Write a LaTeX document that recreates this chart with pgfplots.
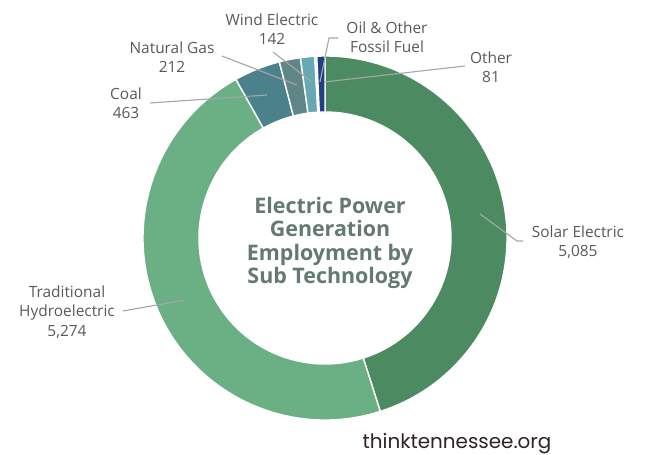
\documentclass[border=0pt]{standalone}
\usepackage{pgfplots}
\pgfplotsset{compat=1.18}
\usepackage{pgfplotstable}
\usetikzlibrary{calc}
\usepackage{fontspec}
\setmainfont{Open Sans}
\newfontfamily\sitefont{Poppins}

% slice colours, clockwise from the top
\definecolor{col0}{HTML}{4C8B61}
\definecolor{col1}{HTML}{6BAF84}
\definecolor{col2}{HTML}{4B818B}
\definecolor{col3}{HTML}{5F8587}
\definecolor{col4}{HTML}{66A9B4}
\definecolor{col5}{HTML}{A6D59E}
\definecolor{col6}{HTML}{1F4184}
\definecolor{labelgray}{HTML}{595959}
\definecolor{leadgray}{HTML}{A6A6A6}
\definecolor{titlecol}{HTML}{647A70}
\definecolor{sitecol}{HTML}{2E2222}

\pgfplotstableread{
name value
Solar 5085
Hydro 5274
Coal 463
Gas 212
Wind 142
Oil 20
Other 81
}\datatable

% total and slice angles (start at 12 o'clock, clockwise)
\def\total{0}
\pgfplotsforeachungrouped \i in {0,...,6}{%
  \pgfplotstablegetelem{\i}{value}\of\datatable
  \pgfmathsetmacro\total{\total+\pgfplotsretval}%
}
\def\startang{90}
\pgfplotsforeachungrouped \i in {0,...,6}{%
  \pgfplotstablegetelem{\i}{value}\of\datatable
  \pgfmathsetmacro\endang{\startang-\pgfplotsretval/\total*360}%
  \expandafter\xdef\csname sa\i\endcsname{\startang}%
  \expandafter\xdef\csname ea\i\endcsname{\endang}%
  \global\let\startang\endang
}

\def\R{182bp}
\def\r{126bp}

\begin{document}
\begin{tikzpicture}
\begin{axis}[
    scale only axis,
    width=645bp, height=455bp,
    xmin=0, xmax=645, ymin=0, ymax=455,
    hide axis, clip=false,
    anchor=south west, at={(0,0)},
]
\pgfplotsinvokeforeach{0,...,6}{
  \fill[fill=col#1, draw=white, line width=1.4bp]
    ($(axis cs:325,217)+({\csname sa#1\endcsname}:\R)$)
      arc[start angle=\csname sa#1\endcsname, end angle=\csname ea#1\endcsname, radius=\R]
    -- ($(axis cs:325,217)+({\csname ea#1\endcsname}:\r)$)
      arc[start angle=\csname ea#1\endcsname, end angle=\csname sa#1\endcsname, radius=\r]
    -- cycle;
}

% leader lines
\begin{scope}[leadgray, line width=1.1bp]
\draw (axis cs:273,403) -- (axis cs:312,373);
\draw (axis cs:222,399) -- (axis cs:297,370);
\draw (axis cs:150,352) -- (axis cs:267,360);
\draw (axis cs:338,417) -- (axis cs:329,417) -- (axis cs:320,373);
\draw (axis cs:465,389) -- (axis cs:324,373);
\draw (axis cs:480,241) -- (axis cs:517,214) -- (axis cs:523,214);
\draw (axis cs:123,144) -- (axis cs:185,155);
\end{scope}

% labels
\begin{scope}[every node/.style={align=center, text=labelgray, font=\fontsize{15.5}{19.5}\selectfont, inner sep=0pt}]
\node at (axis cs:272,426) {Wind Electric\\142};
\node at (axis cs:387,418) {Oil \& Other\\Fossil Fuel};
\node at (axis cs:491,388) {Other\\81};
\node at (axis cs:172,398) {Natural Gas\\212};
\node at (axis cs:126,352) {Coal\\463};
\node at (axis cs:578,213) {Solar Electric\\5,085};
\node at (axis cs:67,143) {Traditional\\Hydroelectric\\5,274};
\end{scope}

\node[align=center, text=titlecol, inner sep=0pt,
      font=\fontsize{21.5}{23.5}\selectfont\bfseries]
  at (axis cs:330,212) {Electric Power\\Generation\\Employment by\\Sub Technology};

\node[text=sitecol, inner sep=0pt, font=\sitefont\fontsize{20}{24}\selectfont]
  at (axis cs:457,11) {thinktennessee.org};
\end{axis}
\pgfresetboundingbox
\path (0,0) rectangle (645bp,455bp);
\end{tikzpicture}
\end{document}
